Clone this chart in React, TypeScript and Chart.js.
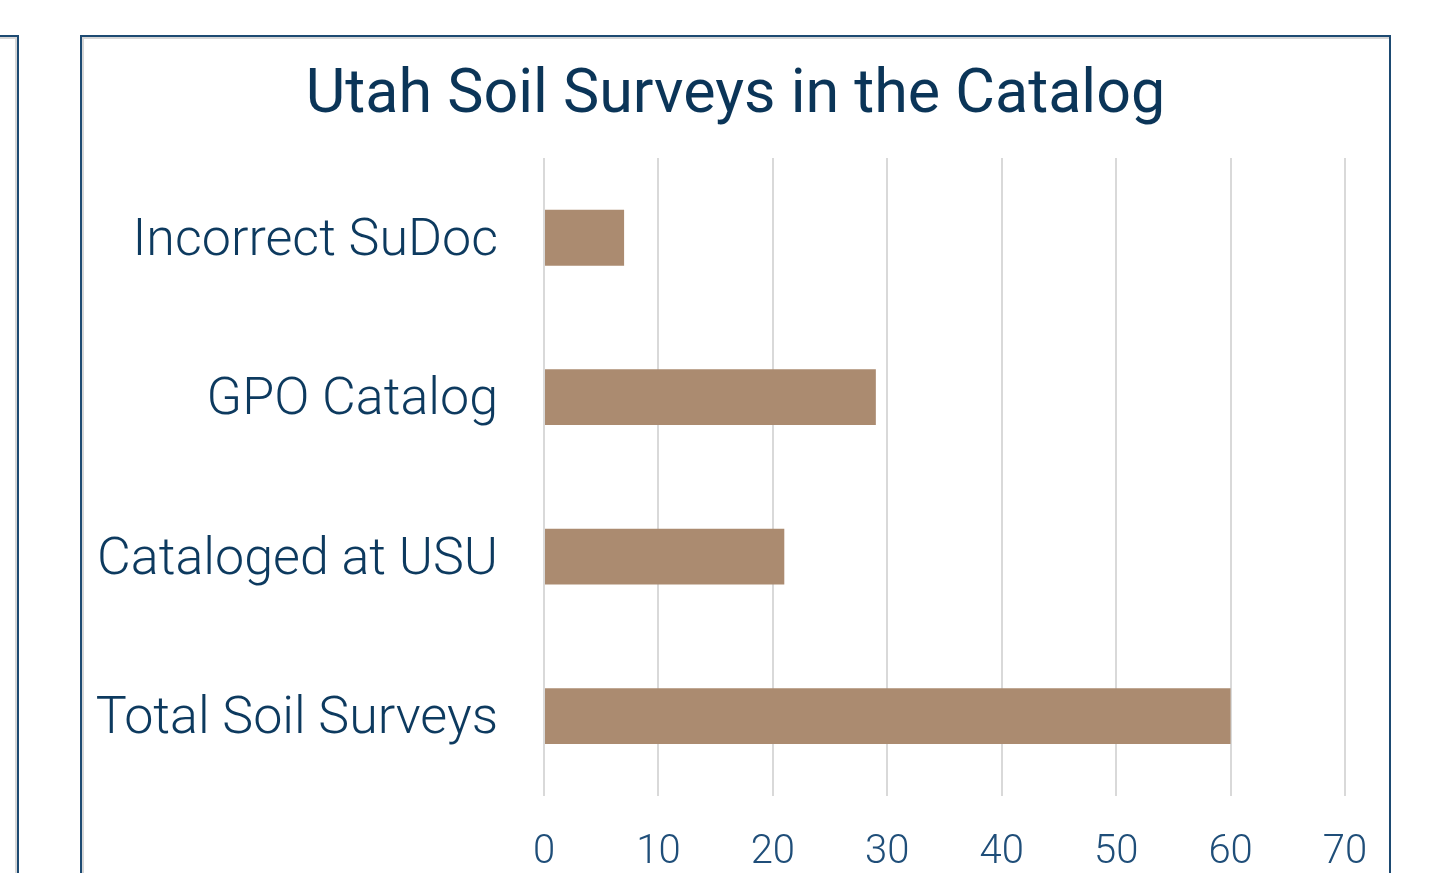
import React, { useEffect, useRef } from "react";
import { Chart, registerables } from "chart.js";

Chart.register(...registerables);

const categories = ["Incorrect SuDoc", "GPO Catalog", "Cataloged at USU", "Total Soil Surveys"];
const surveyCounts = [7, 29, 21, 60];
const axisMin = 0;
const axisMax = 70;
const axisStep = 10;
const titleText = "Utah Soil Surveys in the Catalog";

const centeredTitle = {
  id: "centeredTitle",
  afterDraw(chart: any) {
    const ctx = chart.ctx;
    ctx.save();
    ctx.font = "400 61px Roboto";
    ctx.fillStyle = "#0b3558";
    ctx.textAlign = "center";
    ctx.textBaseline = "middle";
    ctx.fillText(titleText, 735.5, 97);
    ctx.restore();
  },
};

export default function App() {
  const canvasRef = useRef<HTMLCanvasElement | null>(null);

  useEffect(() => {
    const canvas = canvasRef.current;
    if (!canvas) return;
    const chart = new Chart(canvas, {
      type: "bar",
      data: {
        labels: categories,
        datasets: [
          {
            data: surveyCounts,
            backgroundColor: "#ab8b70",
            borderWidth: 0,
            barPercentage: 0.35,
            categoryPercentage: 1,
          },
        ],
      },
      plugins: [centeredTitle],
      options: {
        indexAxis: "y",
        responsive: false,
        animation: false,
        layout: { padding: { left: 0, right: 84, top: 158, bottom: 0 } },
        plugins: {
          legend: { display: false },
          tooltip: { enabled: false },
          title: { display: false },
        },
        scales: {
          x: {
            min: axisMin,
            max: axisMax,
            ticks: {
              stepSize: axisStep,
              color: "#1f4e79",
              font: { family: "Roboto", size: 40, weight: "300" },
              padding: 33,
            },
            grid: { color: "#d9d9d9", lineWidth: 2, drawTicks: false },
            border: { display: false },
            afterFit: (s: any) => {
              s.height = 74;
            },
          },
          y: {
            ticks: {
              color: "#0d3a5f",
              font: { family: "Roboto", size: 52, weight: "300" },
              padding: 46,
              labelOffset: 4,
            },
            grid: { display: false, drawTicks: false },
            border: { display: false },
            afterFit: (s: any) => {
              s.width = 544;
            },
          },
        },
      },
    });
    return () => chart.destroy();
  }, []);

  return (
    <div
      style={{
        position: "fixed",
        left: 0,
        top: 0,
        width: 1429,
        height: 873,
        overflow: "hidden",
        background: "#ffffff",
      }}
    >
      <div
        style={{
          position: "absolute",
          left: -100,
          top: 35,
          width: 115,
          height: 900,
          border: "2px solid #1d4a72",
          boxShadow: "inset -2px 2px 0 #d6d6d6",
        }}
      />
      <div
        style={{
          position: "absolute",
          left: 80,
          top: 35,
          width: 1307,
          height: 900,
          border: "2px solid #1d4a72",
          boxShadow: "inset 2px 2px 0 #d6d6d6",
        }}
      />
      <canvas
        ref={canvasRef}
        width={1429}
        height={873}
        style={{ position: "absolute", left: 0, top: 0, width: 1429, height: 873 }}
      />
    </div>
  );
}
